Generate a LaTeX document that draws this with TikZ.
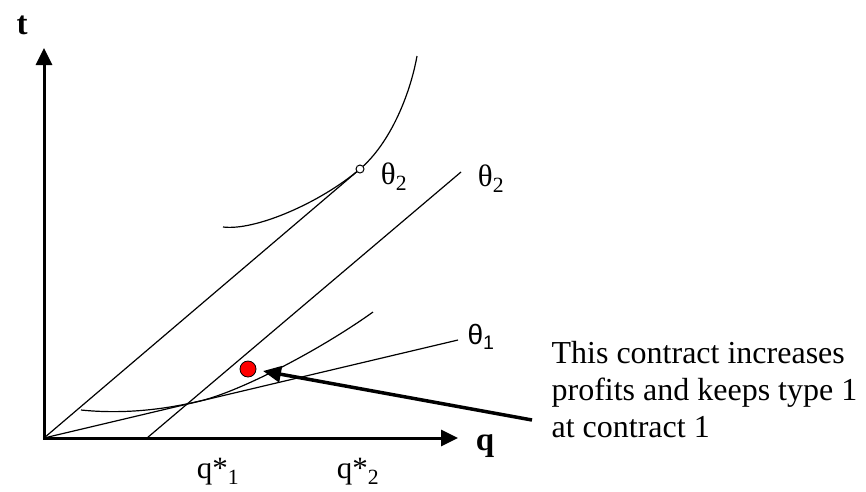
\documentclass[tikz,border=0pt]{standalone}
\usepackage{fontspec}
\setmainfont{Liberation Serif}
\newfontfamily\arialfont{Liberation Sans}
\usetikzlibrary{arrows.meta}

\begin{document}
\begin{tikzpicture}[x=1pt, y=-1pt, line width=1.2pt,
        axis/.style={line width=3pt, {Triangle[length=17pt, width=16pt]}-{Triangle[length=17pt, width=16pt]}},
        lbl/.style={font=\fontsize{31}{36}\selectfont, inner sep=0pt}]
                \useasboundingbox (0,0) rectangle (866,491);
                \coordinate (O) at (44,438);
                \coordinate (Yt) at (44,48);
                \coordinate (Xq) at (458,438);
                \coordinate (A) at (147,438);
                \coordinate (B) at (360,169);
                \coordinate (C) at (461,172);
                \coordinate (D) at (458,340);
                \coordinate (T) at (532,420);
                \coordinate (P) at (263,371);
                % lines and indifference curves
                \draw (O) -- (B);
                \draw (A) -- (C);
                \draw (O) -- (D);
                \draw (223,227) .. controls (255,231) and (320,203) .. (B)
                      .. controls (390,143.5) and (410,95) .. (417,56);
                \draw (81,410) .. controls (120,414) and (160,410.5) .. (200,401)
                      .. controls (240,391.5) and (320,350) .. (373,312);
                \draw[axis] (Yt) -- (O) -- (Xq);
                \node[circle, draw, fill=white, minimum size=8pt, inner sep=0pt, line width=1pt] (tan) at (B) {};
                \node[circle, draw, fill=red, minimum size=16pt, inner sep=0pt, line width=0.8pt] (dot) at (248,369) {};
                \draw[line width=3.5pt, -{Triangle[length=18pt, width=16pt]}] (T) -- (P);
                % labels
                \node[lbl, font=\fontsize{33}{36}\selectfont\bfseries] (lt) at (22,25) {t};
                \node[lbl, font=\fontsize{33}{36}\selectfont\bfseries] (lq) at (485,446) {q};
                \node[lbl] (th2a) at (394,177) {θ\textsubscript{2}};
                \node[lbl] (th2b) at (491,179) {θ\textsubscript{2}};
                \node[lbl, font=\fontsize{28}{32}\selectfont\arialfont] (th1) at (481,337) {θ\textsubscript{1}};
                \node[lbl] (q1) at (218,472) {q*\textsubscript{1}};
                \node[lbl] (q2) at (358,472) {q*\textsubscript{2}};
                \node[anchor=north west, align=left, inner sep=0pt, font=\fontsize{32}{37}\selectfont] (note) at (551,341)
                      {This contract increases\\profits and keeps type 1\\at contract 1};
            \end{tikzpicture}
\end{document}
